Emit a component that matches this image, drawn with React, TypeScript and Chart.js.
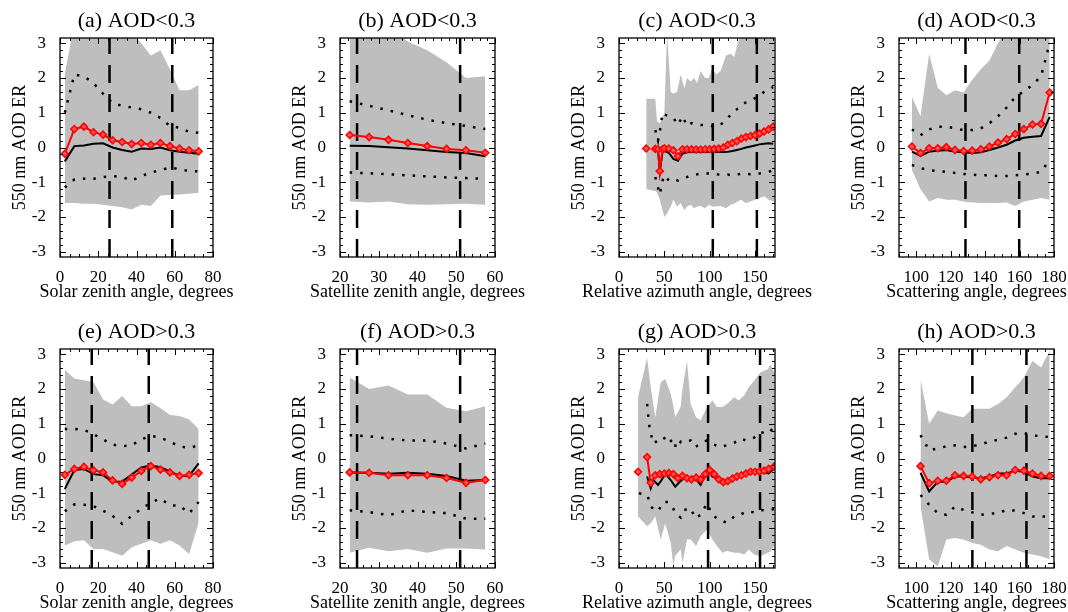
import React, { useEffect, useRef } from 'react';
import { Chart, registerables } from 'chart.js';

Chart.register(...registerables);

const FONT = '"Liberation Serif", "Times New Roman", serif';
const RED = '#ff0000';
const GRAY = '#bebebe';
const Y_MIN = -3.15;
const Y_MAX = 3.15;
const yTicks = [-3, -2, -1, 0, 1, 2, 3];
const Y_LABEL = '550 nm AOD ER';

// ---------- tick labels ----------
const szaTicks = [0, 20, 40, 60, 80];
const vzaTicks = [20, 30, 40, 50, 60];
const raaTicks = [0, 50, 100, 150];
const scaTicks = [100, 120, 140, 160, 180];

// ---------- (a) solar zenith, AOD<0.3 ----------
const szaX = [2.5, 7.5, 12.5, 17.5, 22.5, 27.5, 32.5, 37.5, 42.5, 47.5, 52.5, 57.5, 62.5, 67.5, 72.5];
const aRed = [-0.18, 0.53, 0.6, 0.44, 0.37, 0.21, 0.16, 0.1, 0.13, 0.08, 0.13, 0.04, -0.03, -0.08, -0.11];
const aBlack = [-0.4, 0.04, 0.06, 0.11, 0.12, 0.0, -0.07, -0.12, -0.03, -0.04, 0.0, -0.08, -0.12, -0.15, -0.18];
const aP84 = [1.0, 2.1, 2.05, 1.85, 1.55, 1.27, 1.2, 1.15, 1.1, 1.0, 0.85, 0.62, 0.57, 0.45, 0.42];
const aP16 = [-1.15, -0.92, -0.9, -0.9, -0.85, -0.82, -0.85, -0.95, -0.82, -0.72, -0.65, -0.58, -0.62, -0.68, -0.68];
const aHi = [2.1, 3.6, 3.6, 3.6, 3.6, 3.6, 3.5, 3.3, 3.0, 2.65, 2.8, 2.25, 1.65, 1.65, 1.8];
const aLo = [-1.6, -1.6, -1.62, -1.62, -1.65, -1.68, -1.72, -1.78, -1.65, -1.68, -1.38, -1.37, -1.35, -1.33, -1.3];
const aDash = [25.9, 58.7];

// ---------- (b) satellite zenith, AOD<0.3 ----------
const vzaX = [22.5, 27.5, 32.5, 37.5, 42.5, 47.5, 52.5, 57.5];
const bRed = [0.36, 0.3, 0.22, 0.13, 0.04, -0.04, -0.08, -0.15];
const bBlack = [0.05, 0.04, 0.01, -0.03, -0.08, -0.13, -0.16, -0.25];
const bP84 = [1.33, 1.2, 1.07, 0.93, 0.8, 0.7, 0.62, 0.53];
const bP16 = [-0.72, -0.74, -0.77, -0.8, -0.83, -0.86, -0.88, -0.9];
const bHi = [3.6, 3.6, 3.5, 3.05, 2.8, 2.45, 2.0, 2.05];
const bLo = [-1.55, -1.58, -1.55, -1.63, -1.65, -1.63, -1.62, -1.65];
const bDash = [24.4, 51.0];

// ---------- (c) relative azimuth, AOD<0.3 ----------
const cX = [30, 35, 40, 43, 45, 48, 50, 55, 60, 65, 70, 75, 80, 85, 90, 95, 100, 105, 110, 115, 120, 125, 130, 135, 140, 145, 150, 155, 160, 165, 170];
const cRed = [-0.03, null, -0.04, -0.05, -0.68, -0.05, -0.02, -0.03, -0.08, -0.25, -0.05, -0.05, -0.05, -0.06, -0.06, -0.05, -0.05, -0.04, -0.03, 0.0, 0.08, 0.13, 0.18, 0.26, 0.3, 0.33, 0.36, 0.4, 0.46, 0.52, 0.6];
const cBlack = [null, null, -0.02, -0.06, -0.7, -0.12, -0.1, -0.15, -0.33, -0.38, -0.17, -0.14, -0.13, -0.13, -0.13, -0.13, -0.13, -0.13, -0.13, -0.13, -0.12, -0.1, -0.07, -0.04, 0.0, 0.03, 0.06, 0.09, 0.11, 0.12, 0.11];
const cPX = [40, 43, 45, 48, 50, 55, 60, 65, 70, 75, 80, 85, 90, 95, 100, 105, 110, 115, 120, 125, 130, 135, 140, 145, 150, 155, 160, 165, 170];
const cP84 = [0.5, 0.2, 0.45, 1.0, 0.95, 0.9, 0.85, 0.65, 0.9, 0.62, 0.7, 0.68, 0.65, 0.65, 0.63, 0.6, 0.62, 0.72, 0.85, 1.0, 1.1, 1.2, 1.3, 1.35, 1.42, 1.5, 1.6, 1.68, 1.74];
const cP16 = [-0.85, -1.15, -1.35, -0.95, -0.8, -0.95, -0.9, -0.95, -0.88, -0.85, -0.8, -0.78, -0.75, -0.75, -0.75, -0.75, -0.78, -0.78, -0.78, -0.8, -0.78, -0.75, -0.75, -0.77, -0.75, -0.75, -0.73, -0.7, -0.65];
const cGX = [30, 40, 42, 45, 50, 53, 57, 60, 64, 68, 72, 75, 79, 83, 86, 90, 95, 99, 103, 107, 112, 118, 123, 127, 134, 140, 145, 150, 155, 160, 165, 171];
const cHi = [1.4, 1.4, 0.75, 0.7, 1.0, 3.3, 1.6, 1.55, 1.6, 2.1, 1.7, 2.0, 1.9, 2.0, 1.85, 2.2, 2.0, 2.0, 2.3, 2.1, 2.2, 2.65, 2.7, 2.6, 3.3, 3.5, 3.5, 3.5, 3.5, 3.5, 3.5, 3.5];
const cLo = [-1.2, -1.25, -1.3, -1.5, -2.0, -1.9, -1.7, -1.5, -1.7, -1.6, -1.8, -1.7, -1.65, -1.75, -1.7, -1.68, -1.75, -1.65, -1.7, -1.7, -1.68, -1.75, -1.65, -1.62, -1.5, -1.6, -1.55, -1.5, -1.45, -1.4, -1.5, -1.55];
const cDash = [103.4, 152];

// ---------- (d) scattering angle, AOD<0.3 ----------
const dX = [97.5, 102.5, 107.5, 112.5, 117.5, 122.5, 127.5, 132.5, 137.5, 142.5, 147.5, 152.5, 157.5, 162.5, 167.5, 172.5, 177.5];
const dRed = [0.03, -0.16, -0.02, -0.02, 0.01, -0.07, -0.1, -0.09, -0.05, 0.03, 0.14, 0.24, 0.39, 0.53, 0.66, 0.68, 1.58];
const dBlack = [-0.12, -0.24, -0.12, -0.09, -0.07, -0.12, -0.14, -0.16, -0.14, -0.07, 0.0, 0.08, 0.2, 0.28, 0.31, 0.33, 0.88];
const dP84 = [0.52, 0.35, 0.52, 0.6, 0.6, 0.55, 0.5, 0.5, 0.55, 0.7, 0.9, 1.15, 1.45, 1.62, 1.8, 2.05, 3.0];
const dP16 = [-0.5, -0.6, -0.65, -0.68, -0.7, -0.73, -0.76, -0.78, -0.8, -0.8, -0.82, -0.82, -0.8, -0.78, -0.75, -0.7, -0.35];
const dHi = [1.45, 0.9, 2.7, 1.72, 1.5, 1.65, 1.58, 1.95, 2.25, 2.5, 3.0, 3.4, 3.6, 3.6, 3.6, 3.6, 3.6];
const dLo = [-0.65, -1.2, -1.55, -1.45, -1.5, -1.5, -1.55, -1.58, -1.6, -1.6, -1.6, -1.58, -1.68, -1.55, -1.5, -1.45, -1.5];
const dDash = [128.6, 159.8];

// ---------- (e) solar zenith, AOD>0.3 ----------
const eRed = [-0.47, -0.3, -0.24, -0.34, -0.4, -0.63, -0.73, -0.55, -0.36, -0.22, -0.32, -0.4, -0.5, -0.47, -0.42];
const eBlack = [-0.88, -0.33, -0.3, -0.45, -0.48, -0.67, -0.66, -0.46, -0.26, -0.2, -0.25, -0.37, -0.5, -0.5, -0.14];
const eP84 = [0.85, 0.85, 0.82, 0.7, 0.55, 0.4, 0.35, 0.38, 0.55, 0.65, 0.6, 0.48, 0.35, 0.3, 0.38];
const eP16 = [-1.52, -1.32, -1.33, -1.37, -1.5, -1.65, -1.88, -1.65, -1.45, -1.27, -1.15, -1.35, -1.35, -1.58, -1.25];
const eHi = [2.55, 2.3, 2.25, 2.2, 1.7, 1.55, 1.8, 1.5, 1.5, 1.62, 1.45, 1.25, 1.22, 1.12, 0.85];
const eLo = [-2.5, -2.38, -2.35, -2.6, -2.6, -2.7, -2.8, -2.55, -2.45, -2.35, -2.45, -2.35, -2.5, -2.75, -1.85];
const eDash = [16.6, 46.4];

// ---------- (f) satellite zenith, AOD>0.3 ----------
const fRed = [-0.4, -0.41, -0.48, -0.48, -0.48, -0.56, -0.7, -0.62];
const fBlack = [-0.4, -0.41, -0.44, -0.41, -0.44, -0.5, -0.64, -0.62];
const fP84 = [0.67, 0.64, 0.57, 0.52, 0.52, 0.43, 0.29, 0.43];
const fP16 = [-1.49, -1.54, -1.63, -1.49, -1.54, -1.57, -1.73, -1.73];
const fHi = [2.33, 2.0, 2.1, 1.84, 1.84, 1.46, 1.36, 1.5];
const fLo = [-2.71, -2.57, -2.67, -2.6, -2.71, -2.59, -2.59, -2.62];
const fDash = [24.4, 51.0];

// ---------- (g) relative azimuth, AOD>0.3 ----------
const gRX = [21, 26, 31, 35, 40, 45, 50, 55, 60, 65, 70, 75, 80, 85, 90, 95, 100, 105, 110, 115, 120, 125, 130, 135, 140, 145, 150, 155, 160, 165, 171];
const gRed = [-0.38, null, 0.04, -0.7, -0.48, -0.45, -0.43, -0.42, -0.45, -0.57, -0.5, -0.57, -0.6, -0.55, -0.6, -0.45, -0.33, -0.45, -0.6, -0.68, -0.65, -0.58, -0.52, -0.48, -0.43, -0.38, -0.38, -0.37, -0.35, -0.3, -0.23];
const gBX = [31, 35, 38, 43, 47, 51, 57, 62, 67, 72, 78, 84, 90, 94, 98, 103, 108, 114, 120, 125, 131, 137, 143, 149, 155, 160, 165, 171];
const gBlack = [-0.52, -0.86, -0.62, -0.76, -0.62, -0.43, -0.62, -0.81, -0.67, -0.57, -0.62, -0.57, -0.76, -0.52, -0.33, -0.52, -0.57, -0.62, -0.67, -0.57, -0.52, -0.43, -0.43, -0.38, -0.38, -0.4, -0.43, -0.29];
const gPX = [22, 31, 33, 35, 38, 43, 49, 54, 60, 63, 68, 72, 79, 84, 90, 97, 103, 110, 119, 127, 134, 140, 149, 156, 164, 171];
const gP84 = [null, 1.57, 1.0, 0.71, 0.43, 0.52, 0.62, 0.43, 0.57, 0.29, 0.48, 0.45, 0.52, 0.33, 0.43, 0.52, 0.43, 0.33, 0.38, 0.45, 0.57, 0.52, 0.6, 0.76, 0.71, 0.9];
const gP16 = [-1.0, -1.05, -1.19, -1.38, -1.45, -1.52, -1.25, -1.25, -1.45, -1.6, -1.7, -1.48, -1.43, -1.72, -1.62, -1.29, -1.62, -1.76, -1.85, -1.67, -1.62, -1.52, -1.55, -1.48, -1.5, -1.45];
const gGX = [21, 31, 35, 40, 46, 51, 57, 60, 62, 68, 70, 75, 79, 85, 90, 97, 103, 108, 114, 119, 127, 132, 138, 143, 149, 156, 164, 167, 171];
const gHi = [1.76, 2.9, 2.05, 1.19, 2.19, 2.29, 1.86, 1.5, 1.19, 1.48, 2.0, 2.81, 1.57, 1.19, 1.1, 1.48, 1.67, 1.48, 1.48, 1.57, 1.76, 1.67, 1.81, 2.05, 2.24, 2.48, 2.57, 2.71, 2.48];
const gLo = [-1.67, -1.95, -1.86, -1.67, -2.33, -1.86, -2.43, -3.1, -2.8, -2.62, -3.0, -2.33, -2.33, -2.52, -2.24, -2.05, -2.33, -2.52, -2.71, -2.66, -2.71, -2.71, -2.76, -2.62, -2.76, -2.81, -2.71, -2.68, -2.52];
const gDash = [98.2, 155.5];

// ---------- (h) scattering angle, AOD>0.3 ----------
const hX = [102.5, 107.5, 112.5, 117.5, 122.5, 127.5, 132.5, 137.5, 142.5, 147.5, 152.5, 157.5, 162.5, 167.5, 172.5, 177.5];
const hRed = [-0.22, -0.71, -0.64, -0.64, -0.48, -0.5, -0.52, -0.6, -0.54, -0.48, -0.48, -0.33, -0.35, -0.43, -0.5, -0.5];
const hBlack = [-0.41, -0.95, -0.67, -0.67, -0.52, -0.52, -0.55, -0.57, -0.52, -0.43, -0.43, -0.35, -0.38, -0.52, -0.57, -0.57];
const hP84 = [0.67, 0.24, 0.29, 0.35, 0.38, 0.33, 0.35, 0.41, 0.48, 0.54, 0.6, 0.71, 0.73, 0.67, 0.63, 0.62];
const hP16 = [-1.05, -1.33, -1.57, -1.62, -1.38, -1.48, -1.55, -1.62, -1.59, -1.57, -1.48, -1.5, -1.57, -1.67, -1.65, -1.71];
const hHi = [2.29, 1.0, 1.38, 1.3, 1.24, 1.19, 1.43, 1.43, 1.43, 1.57, 1.76, 2.05, 2.33, 2.81, 2.62, 3.1];
const hLo = [-1.38, -2.9, -3.1, -2.33, -2.29, -2.33, -2.43, -2.48, -2.62, -2.67, -2.52, -2.62, -2.71, -2.76, -2.81, -2.9];
const hDash = [132.6, 164];

// ---------- layout (positions only) ----------
const COL_LEFT = [60, 340, 619, 899];
const COL_WIDTH = [153, 155, 156, 155];
const ROW_TOP = [38, 349];
const PLOT_H = 219;
const PAD_L = 60;
const PAD_R = 60;
const PAD_T = 38;
const PAD_B = 50;

const AXES = [
  { title: 'Solar zenith angle, degrees', min: 0, max: 80, ticks: szaTicks, minor: 5 },
  { title: 'Satellite zenith angle, degrees', min: 20, max: 60, ticks: vzaTicks, minor: 2 },
  { title: 'Relative azimuth angle, degrees', min: 0, max: 172, ticks: raaTicks, minor: 10 },
  { title: 'Scattering angle, degrees', min: 90, max: 180, ticks: scaTicks, minor: 5 },
];

const PANELS = [
  { label: '(a) AOD<0.3', row: 0, col: 0, rX: szaX, red: aRed, bX: szaX, black: aBlack, pX: szaX, p84: aP84, p16: aP16, gX: szaX, hi: aHi, lo: aLo, dash: aDash },
  { label: '(b) AOD<0.3', row: 0, col: 1, rX: vzaX, red: bRed, bX: vzaX, black: bBlack, pX: vzaX, p84: bP84, p16: bP16, gX: vzaX, hi: bHi, lo: bLo, dash: bDash },
  { label: '(c) AOD<0.3', row: 0, col: 2, rX: cX, red: cRed, bX: cX, black: cBlack, pX: cPX, p84: cP84, p16: cP16, gX: cGX, hi: cHi, lo: cLo, dash: cDash },
  { label: '(d) AOD<0.3', row: 0, col: 3, rX: dX, red: dRed, bX: dX, black: dBlack, pX: dX, p84: dP84, p16: dP16, gX: dX, hi: dHi, lo: dLo, dash: dDash },
  { label: '(e) AOD>0.3', row: 1, col: 0, rX: szaX, red: eRed, bX: szaX, black: eBlack, pX: szaX, p84: eP84, p16: eP16, gX: szaX, hi: eHi, lo: eLo, dash: eDash },
  { label: '(f) AOD>0.3', row: 1, col: 1, rX: vzaX, red: fRed, bX: vzaX, black: fBlack, pX: vzaX, p84: fP84, p16: fP16, gX: vzaX, hi: fHi, lo: fLo, dash: fDash },
  { label: '(g) AOD>0.3', row: 1, col: 2, rX: gRX, red: gRed, bX: gBX, black: gBlack, pX: gPX, p84: gP84, p16: gP16, gX: gGX, hi: gHi, lo: gLo, dash: gDash },
  { label: '(h) AOD>0.3', row: 1, col: 3, rX: hX, red: hRed, bX: hX, black: hBlack, pX: hX, p84: hP84, p16: hP16, gX: hX, hi: hHi, lo: hLo, dash: hDash },
];

const pts = (xs: number[], ys: (number | null)[]) => xs.map((x, i) => ({ x, y: ys[i] }));

function makeFramePlugin(label: string, axis: any) {
  return {
    id: 'idlFrame',
    afterDraw(chart: any) {
      const { ctx, chartArea: a, scales } = chart;
      const xs = scales.x;
      const ys = scales.y;
      ctx.save();
      ctx.strokeStyle = '#000';
      ctx.lineWidth = 1.3;
      ctx.strokeRect(a.left, a.top, a.right - a.left, a.bottom - a.top);
      ctx.lineWidth = 1;
      ctx.beginPath();
      // x ticks (inward, top and bottom)
      for (let v = axis.min; v <= axis.max + 1e-6; v += axis.minor) {
        const isMajor = axis.ticks.some((t: number) => Math.abs(t - v) < 1e-6);
        const len = isMajor ? 6 : 3;
        const px = Math.round(xs.getPixelForValue(v)) + 0.5;
        ctx.moveTo(px, a.bottom);
        ctx.lineTo(px, a.bottom - len);
        ctx.moveTo(px, a.top);
        ctx.lineTo(px, a.top + len);
      }
      // y ticks (inward, left and right)
      for (let k = -15; k <= 15; k++) {
        const v = k * 0.2;
        const isMajor = k % 5 === 0;
        const len = isMajor ? 6 : 3;
        const py = Math.round(ys.getPixelForValue(v)) + 0.5;
        ctx.moveTo(a.left, py);
        ctx.lineTo(a.left + len, py);
        ctx.moveTo(a.right, py);
        ctx.lineTo(a.right - len, py);
      }
      ctx.stroke();
      // texts
      ctx.fillStyle = '#000';
      ctx.textAlign = 'center';
      ctx.textBaseline = 'middle';
      const cx = (a.left + a.right) / 2;
      ctx.font = `22px ${FONT}`;
      ctx.fillText(label, cx, a.top - 16.5);
      ctx.font = `18px ${FONT}`;
      ctx.fillText(axis.title, cx, a.bottom + 35);
      ctx.restore();
    },
  };
}

function Panel({ p }: { p: any }) {
  const ref = useRef<HTMLCanvasElement>(null);
  const axis = AXES[p.col];
  const plotLeft = COL_LEFT[p.col];
  const plotW = COL_WIDTH[p.col];
  const plotTop = ROW_TOP[p.row];
  const W = PAD_L + plotW + PAD_R;
  const H = PAD_T + PLOT_H + PAD_B;

  useEffect(() => {
    const canvas = ref.current;
    if (!canvas) return;
    const line = (data: any[], extra: any) => ({
      data,
      pointRadius: 0,
      fill: false,
      tension: 0,
      ...extra,
    });
    const datasets: any[] = [
      line(pts(p.rX, p.red), {
        borderColor: RED,
        borderWidth: 2,
        pointStyle: 'rectRot',
        pointRadius: 3.5,
        pointBorderColor: RED,
        pointBackgroundColor: '#ff5050',
        pointBorderWidth: 1.5,
      }),
      line(pts(p.bX, p.black), { borderColor: '#000', borderWidth: 2 }),
      line(pts(p.pX, p.p84), { borderColor: '#000', borderWidth: 2.5, borderDash: [2.5, 8] }),
      line(pts(p.pX, p.p16), { borderColor: '#000', borderWidth: 2.5, borderDash: [2.5, 8] }),
      ...p.dash.map((v: number) =>
        line([{ x: v, y: Y_MIN }, { x: v, y: Y_MAX }], { borderColor: '#000', borderWidth: 2.5, borderDash: [18, 11] })
      ),
      line(pts(p.gX, p.hi), { borderColor: 'rgba(0,0,0,0)', borderWidth: 0, backgroundColor: GRAY, fill: '+1' }),
      line(pts(p.gX, p.lo), { borderColor: 'rgba(0,0,0,0)', borderWidth: 0 }),
    ];
    const tickFont = { family: FONT, size: 17 };
    const chart = new Chart(canvas, {
      type: 'line',
      data: { datasets },
      options: {
        animation: false,
        responsive: false,
        devicePixelRatio: 1,
        events: [],
        layout: { padding: { top: PAD_T, right: PAD_R, left: 0, bottom: 0 } },
        plugins: {
          legend: { display: false },
          tooltip: { enabled: false },
          title: { display: false },
        },
        scales: {
          x: {
            type: 'linear',
            min: axis.min,
            max: axis.max,
            grid: { display: false },
            border: { display: false },
            ticks: {
              font: tickFont,
              color: '#000',
              padding: 2,
              autoSkip: false,
              maxRotation: 0,
              minRotation: 0,
              callback: (v: any) => String(v),
            },
            afterBuildTicks: (s: any) => {
              s.ticks = axis.ticks.map((v: number) => ({ value: v }));
            },
            afterFit: (s: any) => {
              s.height = PAD_B;
            },
          },
          y: {
            type: 'linear',
            min: Y_MIN,
            max: Y_MAX,
            grid: { display: false },
            border: { display: false },
            ticks: {
              font: tickFont,
              color: '#000',
              padding: 6,
              callback: (v: any) => String(v),
            },
            afterBuildTicks: (s: any) => {
              s.ticks = yTicks.map((v) => ({ value: v }));
            },
            afterFit: (s: any) => {
              s.width = PAD_L;
            },
            title: {
              display: true,
              text: Y_LABEL,
              color: '#000',
              font: { family: FONT, size: 18 },
              padding: { top: 9, bottom: 0 },
            },
          },
        },
      },
      plugins: [makeFramePlugin(p.label, axis)],
    } as any);
    return () => chart.destroy();
  }, [p]);

  return (
    <canvas
      ref={ref}
      width={W}
      height={H}
      style={{ position: 'absolute', left: plotLeft - PAD_L, top: plotTop - PAD_T, width: W, height: H }}
    />
  );
}

export default function App() {
  return (
    <div
      style={{
        position: 'absolute',
        left: 0,
        top: 0,
        width: 1068,
        height: 612,
        overflow: 'hidden',
        background: '#ffffff',
      }}
    >
      {PANELS.map((p) => (
        <Panel key={p.label} p={p} />
      ))}
    </div>
  );
}
